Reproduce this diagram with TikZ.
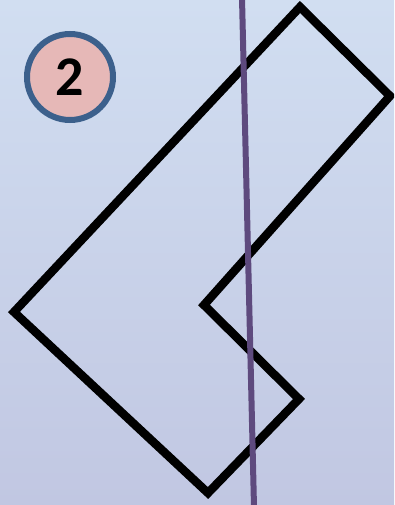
\documentclass[tikz,border=0pt]{standalone}
\usepackage{fontspec}
\setmainfont{Carlito}
\definecolor{bgtop}{RGB}{209,222,241}
\definecolor{bgbot}{RGB}{193,199,226}
\definecolor{badgefill}{RGB}{230,184,183}
\definecolor{badgeline}{RGB}{60,96,140}
\definecolor{axis}{RGB}{94,74,126}
\tikzset{
  shapeline/.style={draw=black, line width=8.5pt, line join=miter},
  axisline/.style={draw=axis, line width=6pt},
  badge/.style={circle, fill=badgefill, draw=badgeline, line width=6pt, minimum size=86pt, inner sep=0pt, font=\fontsize{56}{56}\selectfont\bfseries}
}
\begin{document}
\begin{tikzpicture}[x=1pt,y=-1pt]
\useasboundingbox (0,0) rectangle (394,505);
\clip (0,0) rectangle (394,505);
\shade[top color=bgtop, bottom color=bgbot] (0,0) rectangle (394,505);
\coordinate (p1) at (300,7);
\coordinate (p2) at (390,96);
\coordinate (p3) at (204,305);
\coordinate (p4) at (299,399);
\coordinate (p5) at (208,493);
\coordinate (p6) at (14,312);
\draw[shapeline] (p1) -- (p2) -- (p3) -- (p4) -- (p5) -- (p6) -- cycle;
\coordinate (a1) at (242,-2);
\coordinate (a2) at (254,507);
\draw[axisline] (a1) -- (a2);
\node[badge] (num) at (70,77) {2};
\end{tikzpicture}
\end{document}
